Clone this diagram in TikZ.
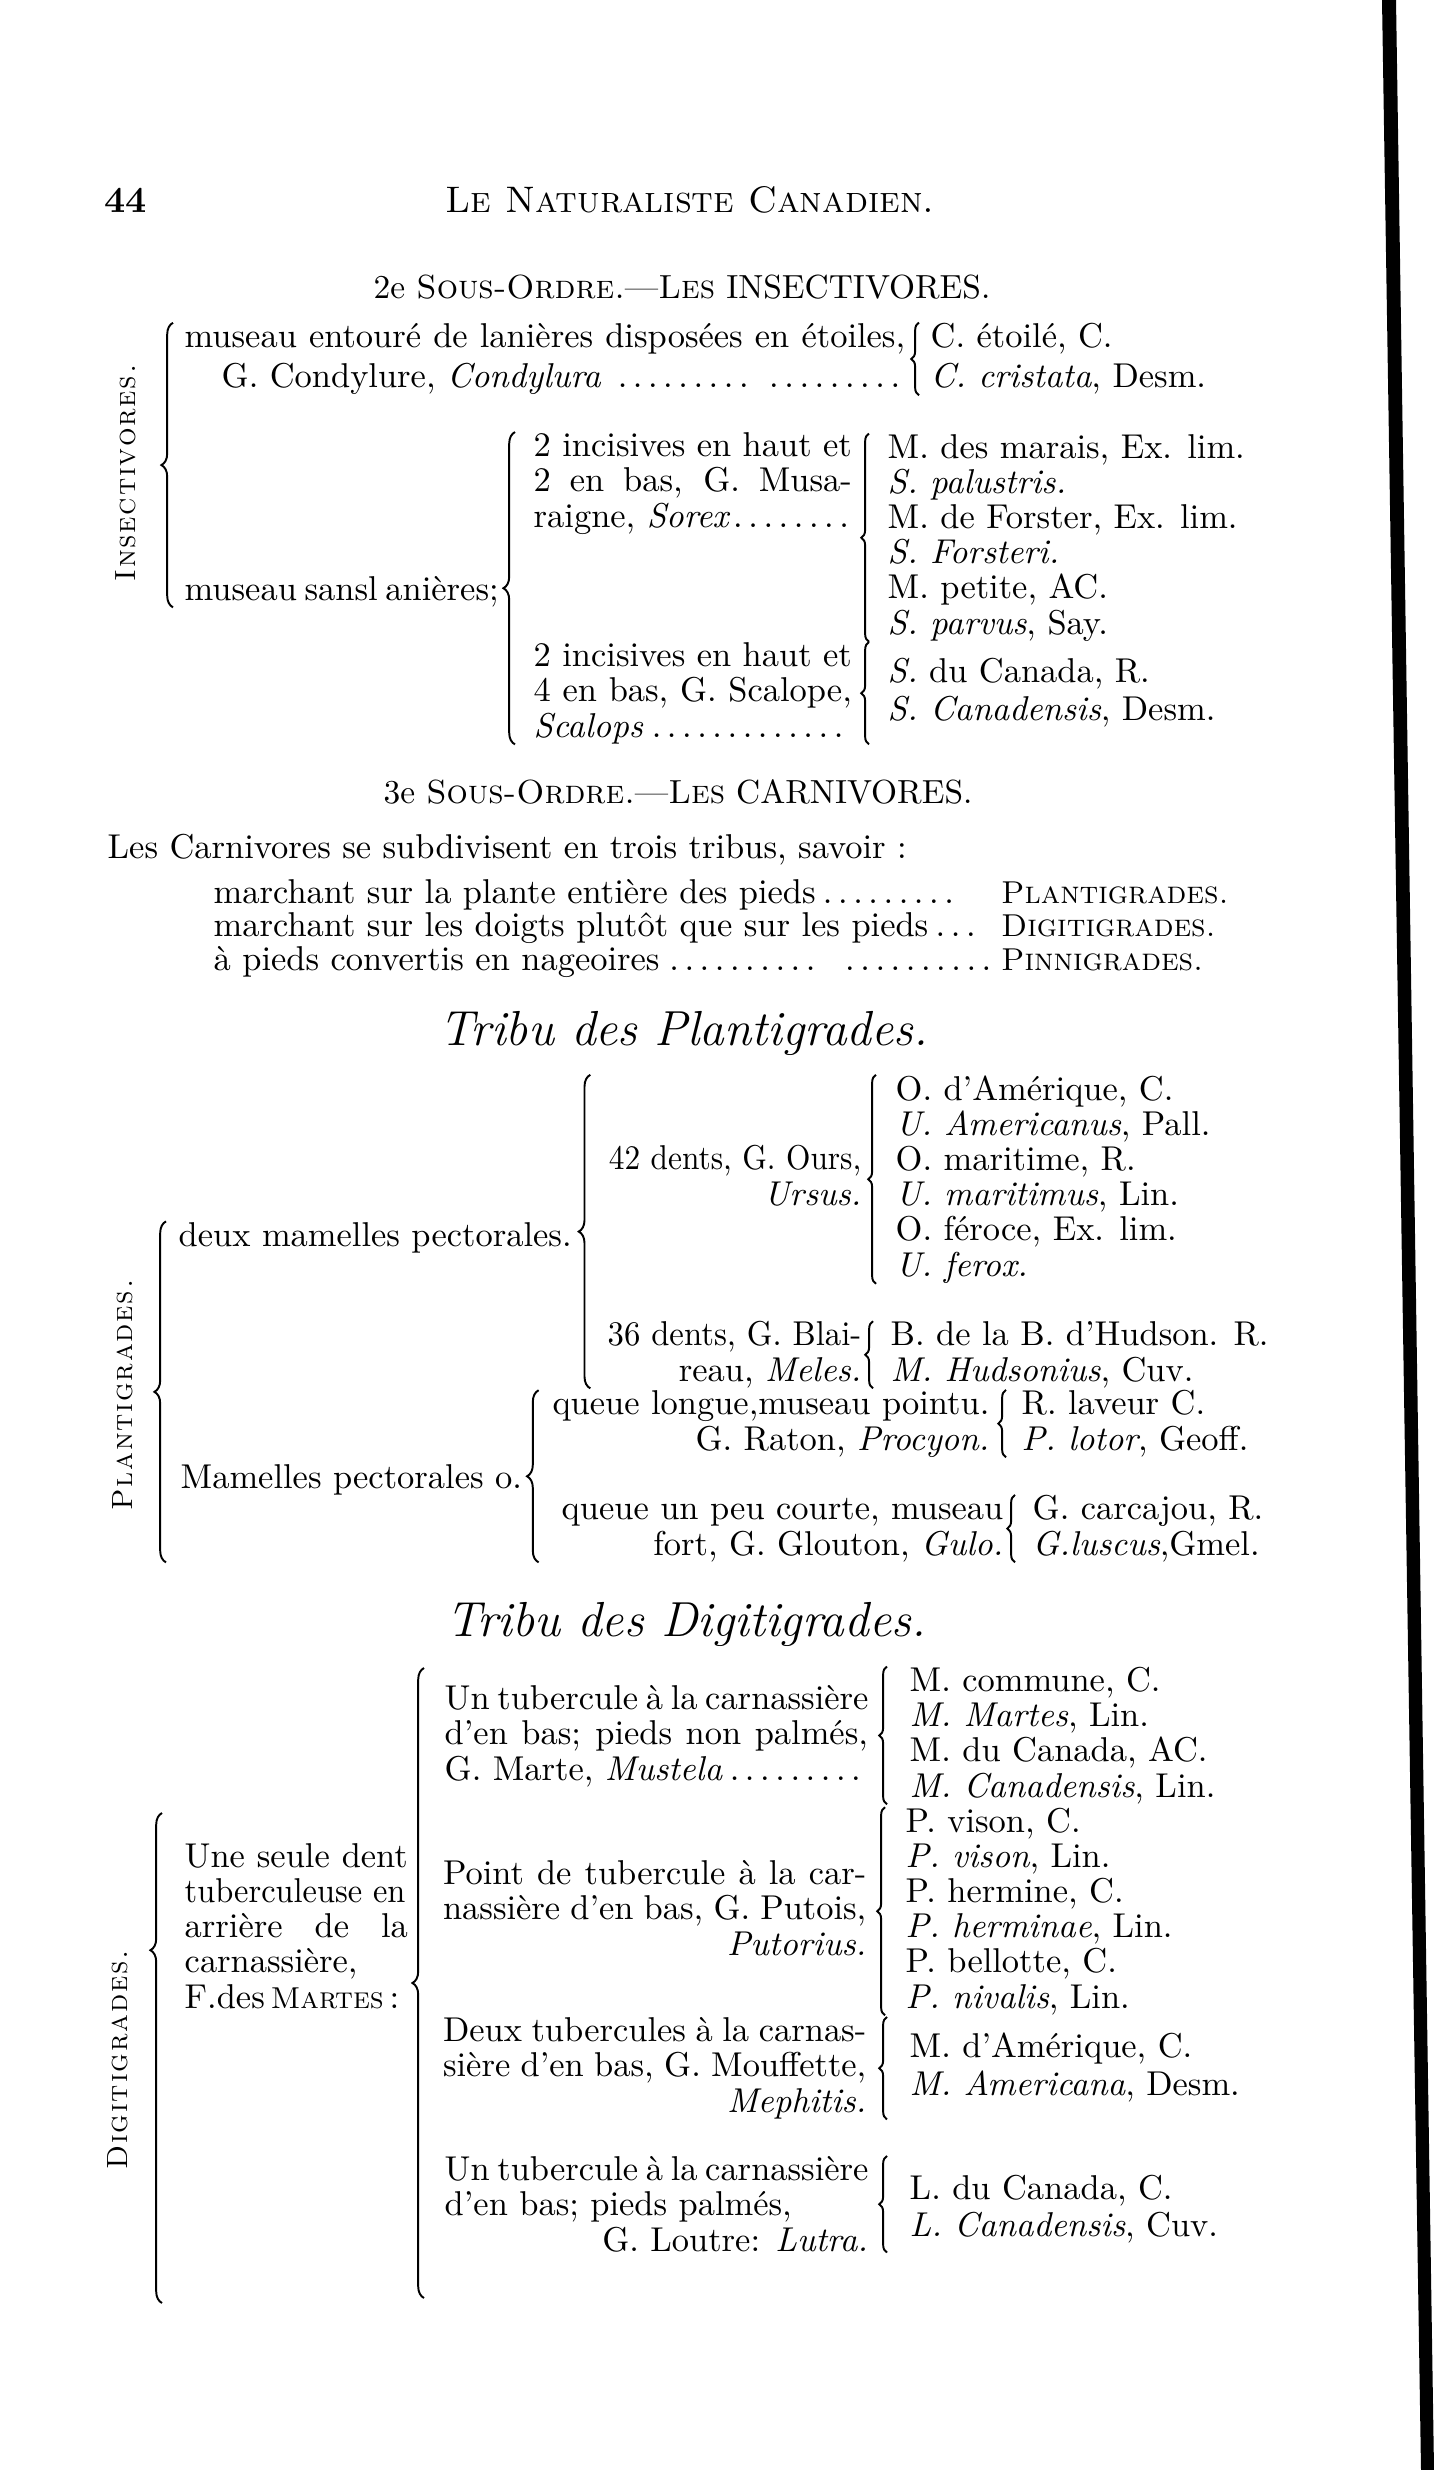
\documentclass[tikz,border=0pt]{standalone}
\usepackage{graphicx}
\usepackage{tikz}
\usetikzlibrary{calc,decorations.pathreplacing}
\newcommand\bodyfont{\fontsize{9.8}{10}\selectfont}
\newcommand\tribecaps[1]{{\fontsize{9}{10}\selectfont\textsc{#1}}}

\begin{document}
\begin{tikzpicture}[x=0.01cm,y=-0.01cm,font=\bodyfont,
    txt/.style={inner sep=0pt,anchor=base west,align=left},
    rtxt/.style={inner sep=0pt,anchor=base east,align=right},
    head/.style={inner sep=0pt,anchor=base},
    side/.style={inner sep=0pt,rotate=90,font=\fontsize{8.3}{8.3}\selectfont},
    tribe/.style={head,font=\fontsize{14}{14}\selectfont\itshape},
    brc/.style={decorate,decoration={brace,amplitude=2.2pt},line width=0.55pt},
    bigbrc/.style={brc,decoration={brace,amplitude=3.3pt}}]
  \useasboundingbox (0,0) rectangle (1434,2470);
  % edge of the scanned page
  \fill (1382,0) -- (1396,0) -- (1434,2470) -- (1421,2470) -- cycle;

  % running head (multi-line nodes sit on their last line)
  \node[txt,font=\fontsize{10.5}{10.5}\selectfont\bfseries] (pgno) at (104,213) {44};
  \node[head,font=\fontsize{10.5}{10.5}\selectfont] (jrnl) at (690,213)
    {\textsc{Le Naturaliste Canadien.}};

  % --- Insectivores
  \node[head,font=\fontsize{9.5}{9.5}\selectfont] (so2) at (682,299)
    {2e \textsc{Sous-Ordre.}---\textsc{Les} INSECTIVORES.};
  \node[side] (insl) at (126,473)
    {\textsc{I\kern.5pt n\kern.5pt s\kern.5pt e\kern.5pt c\kern.5pt t\kern.5pt i\kern.5pt v\kern.5pt o\kern.5pt r\kern.5pt e\kern.5pt s\kern.5pt .}};
  \node[txt] (ins1) at (184,388)
    {\makebox[7.2cm][s]{museau entouré de lanières disposées en étoiles,}\\[1.5pt]
     \hspace*{0.37cm}\makebox[6.83cm]{G. Condylure, \textit{Condylura} \dotfill\hspace{3pt}\dotfill}};
  \node[txt] (ins1s) at (930,388) {C. étoilé, C.\\[1.5pt]\textit{C. cristata}, Desm.};
  \node[txt] (ins2) at (184,600) {museau\hspace{2.2pt}sansl\hspace{2.2pt}anières;};
  \node[txt] (sor) at (533,527)
    {\makebox[3.18cm][s]{2 incisives en haut et}\\
     \makebox[3.18cm][s]{2 en bas, G. Musa-}\\
     \makebox[3.18cm]{raigne, \textit{Sorex}\dotfill}};
  \node[txt] (sors) at (887,634)
    {M. des marais, Ex. lim.\\\textit{S. palustris.}\\M. de Forster, Ex. lim.\\
     \textit{S. Forsteri.}\\M. petite, AC.\\\textit{S. parvus}, Say.};
  \node[txt] (sca) at (533,737)
    {\makebox[3.18cm][s]{2 incisives en haut et}\\
     \makebox[3.18cm][s]{4 en bas, G. Scalope,}\\
     \makebox[3.18cm]{\textit{Scalops}\dotfill}};
  \node[txt] (scas) at (887,720) {\textit{S.} du Canada, R.\\[0.6pt]\textit{S. Canadensis}, Desm.};

  \draw[bigbrc] ($(ins2.south west)+(-11,0)$) -- ($(ins1.north west)+(-11,0)$);
  \draw[brc] ($(ins1s.south west)+(-11,0)$) -- ($(ins1s.north west)+(-11,0)$);
  \draw[bigbrc] ($(sca.south west)+(-18,0)$) -- ($(sor.north west)+(-18,0)$);
  \draw[brc] ($(sors.south west)+(-18,0)$) -- ($(sors.north west)+(-18,0)$);
  \draw[brc] ($(sca.south -| scas.west)+(-18,0)$) -- ($(sca.north -| scas.west)+(-18,0)$);

  % --- Carnivores
  \node[head,font=\fontsize{9.5}{9.5}\selectfont] (so3) at (678,803)
    {3e \textsc{Sous-Ordre.}---\textsc{Les} CARNIVORES.};
  \node[txt] (carn) at (107,858) {Les Carnivores se subdivisent en trois tribus, savoir :};
  \node[txt] (tribes) at (213,970)
    {\makebox[7.87cm][l]{marchant sur la plante entière des pieds\dotfill\hspace{0.4cm}}\tribecaps{Plantigrades.}\\[-0.5pt]
     \makebox[7.87cm][l]{marchant sur les doigts plutôt que sur les pieds\dotfill\hspace{0.18cm}}\tribecaps{Digitigrades.}\\[-0.5pt]
     \makebox[7.87cm][l]{à pieds convertis en nageoires\dotfill\hspace{0.1cm}\dotfill}\tribecaps{Pinnigrades.}};

  % --- Plantigrades
  \node[tribe] (tpl) at (684,1045) {Tribu des Plantigrades.};
  \node[side] (pltl) at (123,1395)
    {\textsc{P\kern.5pt l\kern.5pt a\kern.5pt n\kern.5pt t\kern.5pt i\kern.5pt g\kern.5pt r\kern.5pt a\kern.5pt d\kern.5pt e\kern.5pt s\kern.5pt .}};
  \node[txt] (dm) at (178,1246) {deux mamelles pectorales.};
  \node[rtxt] (urs) at (862,1205) {\scalebox{0.91}[1]{42 dents, G. Ours,}\\\textit{Ursus.}};
  \node[txt] (urss) at (895,1276)
    {O. d'Amérique, C.\\\textit{U. Americanus}, Pall.\\O. maritime, R.\\
     \textit{U. maritimus}, Lin.\\O. féroce, Ex. lim.\\\textit{U. ferox.}};
  \node[rtxt] (mel) at (862,1381) {\scalebox{0.95}[1]{36 dents, G. Blai-}\\reau, \textit{Meles.}};
  \node[txt] (mels) at (890,1381) {B. de la B. d'Hudson. R.\\\textit{M. Hudsonius}, Cuv.};
  \node[txt] (mam) at (180,1488) {Mamelles pectorales o.};
  \node[rtxt] (pro) at (990,1450) {queue longue,museau pointu.\\G. Raton, \textit{Procyon.}};
  \node[txt] (pros) at (1021,1450) {R. laveur C.\\\textit{P. lotor}, Geoff.};
  \node[rtxt] (gul) at (1004,1555) {queue un peu courte, museau\\fort, G. Glouton, \textit{Gulo.}};
  \node[txt] (guls) at (1032,1555) {G. carcajou, R.\\\textit{G.luscus},Gmel.};

  \draw[bigbrc] ($(gul.south -| dm.west)+(-12,0)$) -- ($(dm.north west)+(-12,0)$);
  \draw[bigbrc] ($(mel.south -| dm.east)+(18,0)$) -- ($(urss.north -| dm.east)+(18,0)$);
  \draw[brc] ($(urss.south west)+(-19,0)$) -- ($(urss.north west)+(-19,0)$);
  \draw[brc] ($(mels.south west)+(-17,0)$) -- ($(mels.north west)+(-17,0)$);
  \draw[bigbrc] ($(gul.south -| mam.east)+(16,0)$) -- ($(pro.north -| mam.east)+(16,0)$);
  \draw[brc] ($(pros.south west)+(-15,0)$) -- ($(pros.north west)+(-15,0)$);
  \draw[brc] ($(guls.south west)+(-17,0)$) -- ($(guls.north west)+(-17,0)$);

  % --- Digitigrades
  \node[tribe] (tdg) at (686,1636) {Tribu des Digitigrades.};
  \node[side] (dgtl) at (118,2060)
    {\textsc{D\kern.5pt i\kern.5pt g\kern.5pt i\kern.5pt t\kern.5pt i\kern.5pt g\kern.5pt r\kern.5pt a\kern.5pt d\kern.5pt e\kern.5pt s\kern.5pt .}};
  \node[txt] (mart) at (184,2008)
    {\makebox[2.23cm][s]{Une seule dent}\\\makebox[2.23cm][s]{\scalebox{0.94}[1]{tuberculeuse en}}\\
     \makebox[2.23cm][s]{arrière de la}\\carnassière,\\F.des\,{\fontsize{8.6}{10}\selectfont\textsc{Martes}}\,:};
  \node[txt] (mus) at (444,1780)
    {\makebox[4.23cm][s]{Un tubercule à la carnassière}\\
     \makebox[4.23cm][s]{d'en bas; pieds non palmés,}\\
     \makebox[4.23cm]{G. Marte, \textit{Mustela}\dotfill}};
  \node[txt] (muss) at (909,1797)
    {M. commune, C.\\\textit{M. Martes}, Lin.\\M. du Canada, AC.\\\textit{M. Canadensis}, Lin.};
  \node[rtxt] (put) at (867,1955)
    {\makebox[4.23cm][s]{Point de tubercule à la car-}\\
     \makebox[4.23cm][s]{nassière d'en bas, G. Putois,}\\\textit{Putorius.}};
  \node[txt] (puts) at (905,2008)
    {P. vison, C.\\\textit{P. vison}, Lin.\\P. hermine, C.\\
     \textit{P. herminae}, Lin.\\P. bellotte, C.\\\textit{P. nivalis}, Lin.};
  \node[rtxt] (mep) at (867,2112)
    {\makebox[4.23cm][s]{Deux tubercules à la carnas-}\\
     \makebox[4.23cm][s]{sière d'en bas, G. Mouffette,}\\\textit{Mephitis.}};
  \node[txt] (meps) at (909,2095) {M. d'Amérique, C.\\[0.6pt]\textit{M. Americana}, Desm.};
  \node[txt] (lut) at (444,2251)
    {\makebox[4.23cm][s]{Un tubercule à la carnassière}\\d'en bas; pieds palmés,\\
     \makebox[4.23cm][r]{G. Loutre: \textit{Lutra.}}};
  \node[txt] (luts) at (909,2236) {L. du Canada, C.\\[0.4pt]\textit{L. Canadensis}, Cuv.};
  \coordinate (dgtop) at (162,1813);
  \coordinate (dgbot) at (162,2303);
  \coordinate (mrtop) at (424,1668);
  \coordinate (mrbot) at (424,2298);

  \draw[bigbrc,decoration={aspect=0.72}] (dgbot) -- (dgtop);
  \draw[bigbrc] (mrbot) -- (mrtop);
  \draw[brc] ($(muss.south west)+(-22,0)$) -- ($(muss.north west)+(-22,0)$);
  \draw[brc] ($(puts.south west)+(-20,0)$) -- ($(puts.north west)+(-20,0)$);
  \draw[brc] ($(mep.south -| meps.west)+(-22,0)$) -- ($(mep.north -| meps.west)+(-22,0)$);
  \draw[brc] ($(lut.south -| luts.west)+(-22,0)$) -- ($(lut.north -| luts.west)+(-22,0)$);
\end{tikzpicture}
\end{document}
